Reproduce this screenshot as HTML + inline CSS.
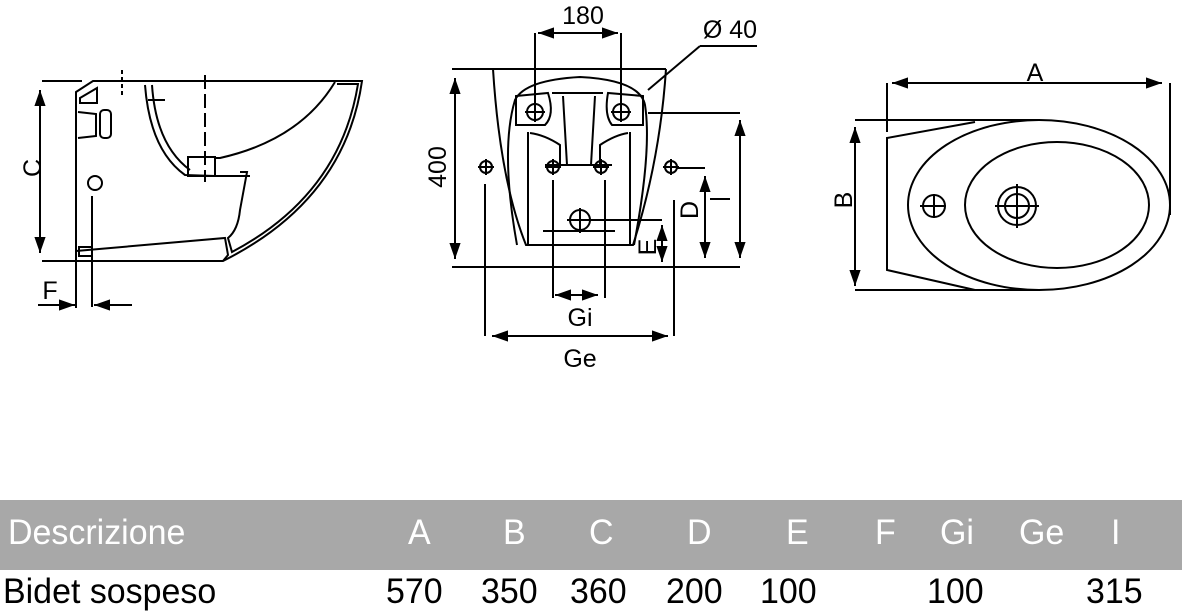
<!DOCTYPE html>
<html><head><meta charset="utf-8"><style>
html,body{margin:0;padding:0;background:#fff;width:1185px;height:606px;overflow:hidden;font-family:"Liberation Sans",sans-serif}
svg{position:absolute;left:0;top:0}
.bar{position:absolute;left:0;top:500px;width:1182px;height:70px;background:#a8a8a8}
.t{position:absolute;font-size:35px;line-height:1;transform:scaleX(0.97);transform-origin:left}
.h{color:#fff;top:515px}
.r{color:#000;top:574px}
</style></head><body>
<div class="bar"></div>
<svg width="1185" height="606" viewBox="0 0 1185 606">
<defs><marker id="a" viewBox="0 0 10 10" refX="10" refY="5" markerWidth="8" markerHeight="8" orient="auto-start-reverse"><path d="M0,1.5 L10,5 L0,8.5z" fill="#000"/></marker></defs>
<g fill="none" stroke="#000" stroke-width="2">
<!-- left drawing -->
<line x1="42" y1="81" x2="82" y2="81"/><line x1="42" y1="261" x2="80" y2="261"/>
<line x1="40" y1="90" x2="40" y2="253" marker-start="url(#a)" marker-end="url(#a)"/>
<path d="M76,92 L93,81 L362,81 Q345,200 223,261 L76,261 Z"/>
<path d="M76,251 L225,238 L228,255 L223,261"/>
<path d="M337,84 L358,84 Q340,195 232,252 L228,238 Q238,230 240,210 L247,172 L240,172"/>
<path d="M335,82 Q300,140 220,158 L215,158 L215,176 L250,176"/>
<path d="M145,85 Q150,150 185,175 L215,176"/>
<path d="M152,85 Q156,145 190,170"/>
<rect x="188" y="157" width="27" height="19"/>
<line x1="205" y1="75" x2="205" y2="182" stroke-dasharray="14,5"/>
<line x1="122" y1="70" x2="122" y2="98" stroke-dasharray="4,3"/>
<line x1="148" y1="100" x2="165" y2="100"/>
<path d="M80,98 L97,88 L97,103 L80,103 Z"/>
<rect x="100" y="110" width="11" height="28" rx="4"/>
<path d="M78,112 L96,114 L96,136 L78,138"/>
<circle cx="95" cy="183" r="7"/>
<line x1="92" y1="196" x2="92" y2="307"/>
<line x1="76" y1="261" x2="76" y2="308"/>
<rect x="79" y="247" width="13" height="9"/>
<line x1="38" y1="305" x2="75" y2="305" marker-end="url(#a)"/>
<line x1="132" y1="305" x2="94" y2="305" marker-end="url(#a)"/>
<!-- middle drawing -->
<line x1="452" y1="69" x2="666" y2="69"/><line x1="452" y1="267" x2="740" y2="267"/>
<line x1="455" y1="78" x2="455" y2="259" marker-start="url(#a)" marker-end="url(#a)"/>
<path d="M493,69 Q500,180 526,245 L633,245 Q660,160 666,69"/>
<path d="M517,245 Q500,150 515,100 Q525,80 580,77 Q640,80 645,105 Q652,150 634,245"/>
<path d="M516,125 L516,96 L548,93 Q555,115 545,125 Z"/>
<path d="M643,125 L643,96 L608,93 Q604,115 612,125 Z"/>
<path d="M552,93 L603,93"/>
<path d="M563,96 L567,165 M595,96 L591,165"/>
<path d="M530,133 Q545,135 560,145 L560,165 M628,133 Q615,135 600,145 L600,165"/>
<path d="M528,132 L528,245 M630,132 L630,245"/>
<path d="M545,165 L612,165"/>
<line x1="543" y1="231" x2="615" y2="231"/>
<line x1="535" y1="33" x2="535" y2="118"/><line x1="621" y1="33" x2="621" y2="118"/>
<line x1="538" y1="33" x2="618" y2="33" marker-start="url(#a)" marker-end="url(#a)"/>
<line x1="757" y1="46" x2="700" y2="46"/><line x1="700" y1="46" x2="648" y2="90"/>
<circle cx="535" cy="112" r="8"/><path d="M525,112h20M535,102v20"/>
<circle cx="621" cy="112" r="8"/><path d="M611,112h20M621,102v20"/>
<circle cx="486" cy="167" r="6"/><path d="M478,167h16M486,159v16"/>
<circle cx="553" cy="167" r="6"/><path d="M545,167h16M553,159v16"/>
<circle cx="601" cy="167" r="6"/><path d="M593,167h16M601,159v16"/>
<circle cx="671" cy="167" r="6"/><path d="M663,167h16M671,159v16"/>
<line x1="677" y1="168" x2="705" y2="168"/>
<circle cx="580" cy="220" r="10"/><path d="M567,220h95M580,208v25"/>
<line x1="553" y1="180" x2="553" y2="298"/><line x1="605" y1="180" x2="605" y2="298"/>
<line x1="555" y1="295" x2="598" y2="295" marker-start="url(#a)" marker-end="url(#a)"/>
<line x1="485" y1="184" x2="485" y2="336"/><line x1="674" y1="200" x2="674" y2="336"/>
<line x1="492" y1="336" x2="668" y2="336" marker-start="url(#a)" marker-end="url(#a)"/>
<line x1="648" y1="113" x2="740" y2="113"/>
<line x1="740" y1="120" x2="740" y2="258" marker-start="url(#a)" marker-end="url(#a)"/>
<line x1="705" y1="176" x2="705" y2="258" marker-start="url(#a)" marker-end="url(#a)"/>
<line x1="710" y1="199" x2="730" y2="199"/>
<line x1="662" y1="225" x2="662" y2="262" marker-start="url(#a)" marker-end="url(#a)"/>
<!-- right drawing -->
<line x1="892" y1="83" x2="1162" y2="83" marker-start="url(#a)" marker-end="url(#a)"/>
<line x1="887" y1="83" x2="887" y2="132"/><line x1="1170" y1="83" x2="1170" y2="215"/>
<line x1="855" y1="120" x2="1040" y2="120"/><line x1="855" y1="290" x2="1040" y2="290"/>
<line x1="855" y1="127" x2="855" y2="286" marker-start="url(#a)" marker-end="url(#a)"/>
<ellipse cx="1039" cy="205" rx="131" ry="85"/>
<ellipse cx="1057" cy="205" rx="92" ry="63"/>
<path d="M975,122 L887,138 L887,270 L975,290"/>
<circle cx="934" cy="206" r="11"/><path d="M920,206h26M934,194v24"/>
<circle cx="1017" cy="206" r="19"/><circle cx="1017" cy="206" r="12"/><path d="M995,206h44M1017,184v44"/>
</g>
<g font-family="Liberation Sans, sans-serif" font-size="25" fill="#000" text-anchor="middle">
<text x="583" y="24">180</text>
<text x="730" y="38">Ø 40</text>
<text x="580" y="326">Gi</text>
<text x="580" y="367">Ge</text>
<text x="1035" y="81">A</text>
<text x="50" y="299">F</text>
<text transform="translate(41,168) rotate(-90)">C</text>
<text transform="translate(446,167) rotate(-90)">400</text>
<text transform="translate(698,210) rotate(-90)">D</text>
<text transform="translate(656,247) rotate(-90)">E</text>
<text transform="translate(852,200) rotate(-90)">B</text>
</g>
</svg>
<div class="t h" style="left:8px">Descrizione</div>
<div class="t h" style="left:408px">A</div>
<div class="t h" style="left:503px">B</div>
<div class="t h" style="left:589px">C</div>
<div class="t h" style="left:687px">D</div>
<div class="t h" style="left:786px">E</div>
<div class="t h" style="left:875px">F</div>
<div class="t h" style="left:940px">Gi</div>
<div class="t h" style="left:1019px">Ge</div>
<div class="t h" style="left:1111px">I</div>
<div class="t r" style="left:3px">Bidet sospeso</div>
<div class="t r" style="left:386px">570</div>
<div class="t r" style="left:481px">350</div>
<div class="t r" style="left:570px">360</div>
<div class="t r" style="left:666px">200</div>
<div class="t r" style="left:760px">100</div>
<div class="t r" style="left:927px">100</div>
<div class="t r" style="left:1086px">315</div>
</body></html>
